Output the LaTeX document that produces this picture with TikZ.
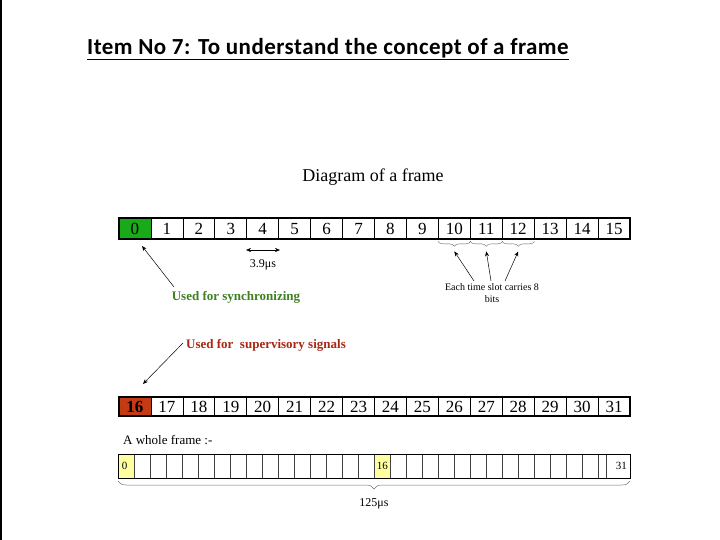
\documentclass[tikz,border=0pt]{standalone}
\usepackage{fontspec}
\setmainfont{Liberation Serif}
\newfontfamily\titlefont[LetterSpace=2]{Carlito}
\usetikzlibrary{arrows.meta,decorations.pathreplacing}
\definecolor{syncgreen}{RGB}{24,170,24}
\definecolor{syncgreentext}{RGB}{62,128,34}
\definecolor{supred}{RGB}{196,58,18}
\definecolor{supredtext}{RGB}{168,40,20}
\definecolor{lightyellow}{RGB}{255,255,160}
\tikzset{
  slot/.style={draw=black, line width=0.7pt, minimum width=31.94pt, minimum height=21pt, inner sep=0pt, text height=11.5pt, text depth=0pt, font=\fontsize{17}{17}\selectfont, anchor=center},
  slotb/.style={slot, minimum height=19pt},
  wslot/.style={draw=black!75, line width=0.6pt, minimum width=16pt, minimum height=24pt, inner sep=0pt},
  lbl/.style={inner sep=0pt},
  arr/.style={-{Stealth[length=5pt,width=4pt]}, line width=0.5pt},
  brc/.style={decorate, decoration={brace, mirror, amplitude=5pt}, line width=0.4pt, draw=black!60},
}
\begin{document}
\begin{tikzpicture}[x=1pt,y=-1pt]
\useasboundingbox (0,0) rectangle (720,540);
\fill[white] (0,0) rectangle (720,540);
\fill[black] (0,0) rectangle (1.6,540);
% title
\node[lbl, anchor=base west] (title) at (87,55) {\titlefont\bfseries\fontsize{23}{23}\selectfont Item No 7: To understand the concept of a frame};
\draw[line width=1.3pt] (title.south west) ++(0,0.5) -- ([yshift=-0.5pt]title.south east);
\node[lbl] (diag) at (373,177) {\fontsize{18}{18}\selectfont Diagram of a frame};
% top row
\foreach \i in {0,...,15} {
  \node[slot] (t\i) at ({119+31.9375*(\i+0.5)},228.5) {\i};
}
\node[slot, fill=syncgreen] at (t0) {0};
\draw[line width=1.3pt] (119,218) rectangle (630,239);
% 3.9 us
\coordinate (da) at (246,250);
\coordinate (db) at (280,250);
\draw[{Stealth[length=5pt,width=4pt]}-{Stealth[length=5pt,width=4pt]}, line width=0.4pt] (da) -- (db);
\node[lbl] (dur) at (263,265) {\fontsize{12}{12}\selectfont 3.9μs};
% sync label
\node[lbl, text=syncgreentext] (sync) at (236,297) {\fontsize{13}{13}\selectfont\bfseries Used for synchronizing};
\coordinate (syncs) at (174,287);
\coordinate (synce) at (142,246);
\draw[arr] (syncs) -- (synce);
% braces under 10,11,12
\draw[brc] (t10.south west) ++(0,2) -- ([yshift=-2pt]t10.south east);
\draw[brc] (t11.south west) ++(0,2) -- ([yshift=-2pt]t11.south east);
\draw[brc] (t12.south west) ++(0,2) -- ([yshift=-2pt]t12.south east);
\coordinate (p10) at ([yshift=-12pt]t10.south);
\coordinate (p11) at ([yshift=-12pt]t11.south);
\coordinate (p12) at ([yshift=-12pt]t12.south);
\node[lbl, align=center] (each) at (492,293) {\fontsize{10}{12}\selectfont Each time slot carries 8\\ bits};
\coordinate (e1) at (474,281);
\coordinate (e2) at (491,281);
\coordinate (e3) at (505,281);
\draw[arr] (e1) -- (p10);
\draw[arr] (e2) -- (p11);
\draw[arr] (e3) -- (p12);
% supervisory
\node[lbl, text=supredtext, anchor=west] (sup) at (186,345) {\fontsize{13}{13}\selectfont\bfseries Used for\ \ supervisory signals};
\coordinate (sups) at (183,343);
\coordinate (supe) at (143,384);
\draw[arr] (sups) -- (supe);
% bottom row
\foreach \i in {16,...,31} {
  \node[slotb] (u\i) at ({119+31.9375*(\i-16+0.5)},406.5) {\i};
}
\node[slotb, fill=supred, font=\fontsize{17}{17}\selectfont\bfseries] at (u16) {16};
\draw[line width=1.3pt] (119,397) rectangle (630,416);
% whole frame
\node[lbl, anchor=west] (whole) at (123,440) {\fontsize{13}{13}\selectfont A whole frame :-};
\foreach \i in {0,...,31} {
  \node[wslot] (w\i) at ({118+16*(\i+0.5)},466) {};
}
\node[wslot, fill=lightyellow] at (w0) {};
\node[wslot, fill=lightyellow] at (w16) {};
\node[wslot, minimum width=24pt, fill=white] at ({630-12},466) {};
\node[lbl, anchor=west] at ([xshift=4pt]w0.west) {\fontsize{11}{11}\selectfont 0};
\node[lbl, anchor=west] at ([xshift=3pt]w16.west) {\fontsize{11}{11}\selectfont 16};
\node[lbl, anchor=east] at (627,466) {\fontsize{11}{11}\selectfont 31};
\draw[line width=0.9pt] (118,454) rectangle (630,478);
\coordinate (wl) at (118,481);
\coordinate (wr) at (630,481);
\draw[decorate, decoration={brace, mirror, amplitude=8pt}, line width=0.5pt, draw=black!55] (wl) -- (wr);
\node[lbl] (total) at (374,504) {\fontsize{12}{12}\selectfont 125μs};
\end{tikzpicture}
\end{document}
